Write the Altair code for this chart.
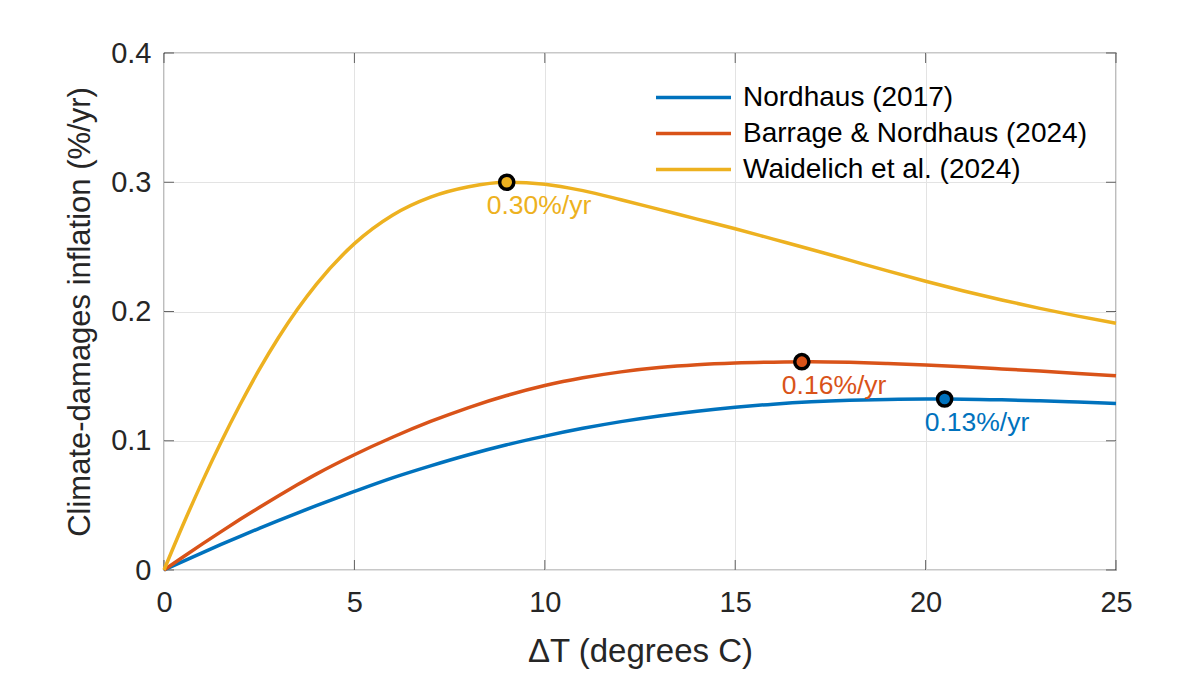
import altair as alt
import pandas as pd

# temperature grid (degrees C) and the three damage-inflation curves (%/yr)
temps = [0, 0.5, 1, 1.5, 2, 2.5, 3, 3.5, 4, 5, 6, 7, 8, 9, 10,
         11, 12, 13, 14, 15, 16, 17, 18, 19, 20, 21, 22, 23, 24, 25]
nordhaus = [0, 0.0067, 0.0133, 0.0198, 0.0261, 0.0322, 0.0382, 0.0441, 0.0498, 0.0608,
            0.0713, 0.0806, 0.0892, 0.0969, 0.1036, 0.1096, 0.1148, 0.1192, 0.1229, 0.1259,
            0.1283, 0.1301, 0.1313, 0.1320, 0.1323, 0.1322, 0.1317, 0.1309, 0.1299, 0.1288]
barrage = [0, 0.0101, 0.0200, 0.0297, 0.0392, 0.0484, 0.0573, 0.0659, 0.0742, 0.0892,
           0.1027, 0.1149, 0.1257, 0.1350, 0.1427, 0.1487, 0.1533, 0.1566, 0.1588, 0.1601,
           0.1608, 0.1611, 0.1607, 0.1598, 0.1586, 0.1572, 0.1556, 0.1539, 0.1521, 0.1502]
waidelich = [0, 0.0350, 0.0680, 0.0990, 0.1280, 0.1550, 0.1795, 0.2015, 0.2210, 0.2525,
             0.2745, 0.2885, 0.2965, 0.3000, 0.2985, 0.2935, 0.2865, 0.2790, 0.2715, 0.2640,
             0.2560, 0.2480, 0.2397, 0.2314, 0.2234, 0.2159, 0.2089, 0.2024, 0.1964, 0.1909]

series_names = ["Nordhaus (2017)", "Barrage & Nordhaus (2024)", "Waidelich et al. (2024)"]
series_colors = ["#0072BD", "#D95319", "#EDB120"]

# maxima of each curve
peak_temps = [20.5, 16.75, 9.0]
peak_values = [0.1323, 0.1612, 0.300]
peak_labels = ["0.13%/yr", "0.16%/yr", "0.30%/yr"]

x_ticks = [0, 5, 10, 15, 20, 25]
y_ticks = [0, 0.1, 0.2, 0.3, 0.4]

FONT = "Liberation Sans"
INK = "#262626"

rows = []
for name, vals in zip(series_names, [nordhaus, barrage, waidelich]):
    for t, v in zip(temps, vals):
        rows.append({"T": t, "v": v, "series": name})
curves = pd.DataFrame(rows)
peaks = pd.DataFrame({"T": peak_temps, "v": peak_values,
                      "label": peak_labels, "series": series_names})

color_scale = alt.Scale(domain=series_names, range=series_colors)
x_scale = alt.Scale(domain=[0, 25], nice=False, zero=False)
y_scale = alt.Scale(domain=[0, 0.4], nice=False)


# inward pointing tick marks on one side of the box (matlab style)
def box_ticks(ts, vs, orient, **shift):
    df = pd.DataFrame({"T": ts, "v": vs})
    return alt.Chart(df).mark_tick(orient=orient, size=10, thickness=1,
                                   color=INK, **shift).encode(
        x=alt.X("T:Q", scale=x_scale, axis=None),
        y=alt.Y("v:Q", scale=y_scale, axis=None),
    )


n_x, n_y = len(x_ticks), len(y_ticks)
bottom_ticks = box_ticks(x_ticks, [y_ticks[0]] * n_x, "vertical", yOffset=-5)
top_ticks = box_ticks(x_ticks, [y_ticks[-1]] * n_x, "vertical", yOffset=5)
left_ticks = box_ticks([x_ticks[0]] * n_y, y_ticks, "horizontal", xOffset=5)
right_ticks = box_ticks([x_ticks[-1]] * n_y, y_ticks, "horizontal", xOffset=-5)

lines = alt.Chart(curves).mark_line(strokeWidth=3.5, interpolate="monotone").encode(
    x=alt.X("T:Q", scale=x_scale,
            axis=alt.Axis(orient="bottom", values=x_ticks, title="ΔT (degrees C)",
                          grid=True, ticks=False, domain=False, labelFlush=False,
                          labelPadding=18, titlePadding=18, titleFontSize=33)),
    y=alt.Y("v:Q", scale=y_scale,
            axis=alt.Axis(orient="left", values=y_ticks, format="~g",
                          title="Climate-damages inflation (%/yr)",
                          grid=True, ticks=False, domain=False, labelFlush=False,
                          labelPadding=13, titlePadding=14)),
    color=alt.Color("series:N", scale=color_scale, sort=series_names,
                    legend=alt.Legend(title=None, orient="none", legendX=490, legendY=30,
                                      symbolType="M-1,0H5", symbolSize=625,
                                      symbolStrokeWidth=3.5, labelOffset=60,
                                      labelFont=FONT, labelFontSize=28,
                                      labelColor="black", rowPadding=7,
                                      padding=0, labelLimit=0)),
)

points = alt.Chart(peaks).mark_circle(size=200, stroke="black", strokeWidth=3.5, opacity=1).encode(
    x=alt.X("T:Q", scale=x_scale, axis=None),
    y=alt.Y("v:Q", scale=y_scale, axis=None),
    color=alt.Color("series:N", scale=color_scale, legend=None),
)

labels = alt.Chart(peaks).mark_text(align="left", baseline="middle", dx=-20, dy=24,
                                    font=FONT, fontSize=26.5).encode(
    x=alt.X("T:Q", scale=x_scale, axis=None),
    y=alt.Y("v:Q", scale=y_scale, axis=None),
    text="label:N",
    color=alt.Color("series:N", scale=color_scale, legend=None),
)

chart = alt.layer(bottom_ticks, top_ticks, left_ticks, right_ticks,
                  lines, points, labels).resolve_axis(
    x="independent", y="independent"
).properties(
    width=952, height=517, background="white",
    padding={"left": 56, "top": 31, "right": 10, "bottom": 10},
).configure_view(
    stroke=INK, strokeWidth=1.2
).configure_axis(
    labelFont=FONT, labelFontSize=29, labelColor=INK,
    titleFont=FONT, titleFontSize=31, titleColor=INK, titleFontWeight="normal",
    gridColor="#e3e3e3", gridWidth=1,
)

chart.save("out.html", embed_options={"renderer": "svg", "actions": False})
